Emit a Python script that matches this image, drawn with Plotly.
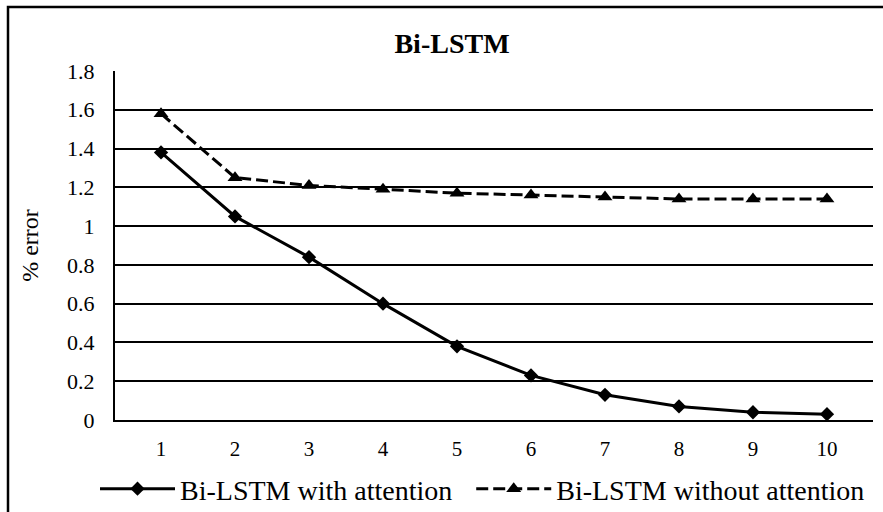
import plotly.graph_objects as go

categories = ["1", "2", "3", "4", "5", "6", "7", "8", "9", "10"]
with_attention = [1.38, 1.05, 0.84, 0.60, 0.38, 0.23, 0.13, 0.07, 0.04, 0.03]
without_attention = [1.58, 1.25, 1.21, 1.19, 1.17, 1.16, 1.15, 1.14, 1.14, 1.14]
y_ticks = [0, 0.2, 0.4, 0.6, 0.8, 1, 1.2, 1.4, 1.6, 1.8]
y_tick_labels = ["0", "0.2", "0.4", "0.6", "0.8", "1", "1.2", "1.4", "1.6", "1.8"]
series_names = ["Bi-LSTM with attention", "Bi-LSTM without attention"]

W, H = 883, 512
L, R, T, B = 115, 10, 71, 92
pw, ph = W - L - R, H - T - B

FONT = "Liberation Serif, Tinos, Times New Roman, DejaVu Serif, serif"

fig = go.Figure()
fig.add_trace(go.Scatter(
    x=categories, y=with_attention, name=series_names[0] + "\u00a0\u00a0",
    mode="lines+markers",
    line=dict(color="black", width=3),
    marker=dict(symbol="diamond", size=11, color="black"),
))
fig.add_trace(go.Scatter(
    x=categories, y=without_attention, name=series_names[1],
    mode="lines+markers",
    line=dict(color="black", width=3, dash="12px,5px"),
    marker=dict(symbol="triangle-up", size=13, color="black"),
))

# outer chart border (image is cropped on right/bottom)
fig.add_shape(type="rect", xref="paper", yref="paper",
              x0=(8 - L) / pw, x1=(W + 20 - L) / pw,
              y0=-(H + 20 - T - ph) / ph, y1=1 + (T - 7) / ph,
              line=dict(color="black", width=2.5), layer="below")

fig.update_layout(
    width=W, height=H,
    margin=dict(l=L, r=R, t=T, b=B, autoexpand=False),
    paper_bgcolor="white", plot_bgcolor="white",
    font=dict(family=FONT, color="black", size=20),
    title=dict(text="<b>Bi-LSTM</b>", x=452 / W, xanchor="center",
               y=1 - 43 / H, yanchor="middle",
               font=dict(family=FONT, size=28, color="black")),
    showlegend=True,
    legend=dict(orientation="h", x=(95 - L) / pw, xanchor="left",
                y=-(489 - T - ph) / ph, yanchor="middle",
                font=dict(family=FONT, size=28, color="black"),
                itemwidth=75, tracegroupgap=0,
                bgcolor="rgba(0,0,0,0)"),
    xaxis=dict(type="category", showgrid=False, showline=True,
               linecolor="black", linewidth=2, ticks="", automargin=False,
               tickfont=dict(family=FONT, size=21), ticklabelstandoff=9,
               zeroline=False, fixedrange=True),
    yaxis=dict(range=[0, 1.8], tickvals=y_ticks, ticktext=y_tick_labels,
               showgrid=True, gridcolor="black", gridwidth=2, automargin=False,
               showline=True, linecolor="black", linewidth=2, ticks="",
               tickfont=dict(family=FONT, size=22), ticklabelstandoff=14,
               zeroline=False, fixedrange=True,
               title=dict(text="% error", font=dict(family=FONT, size=24),
                          standoff=22)),
)

fig.write_html("out.html", config={"displayModeBar": False},
               post_script="document.body.style.margin='0';")
